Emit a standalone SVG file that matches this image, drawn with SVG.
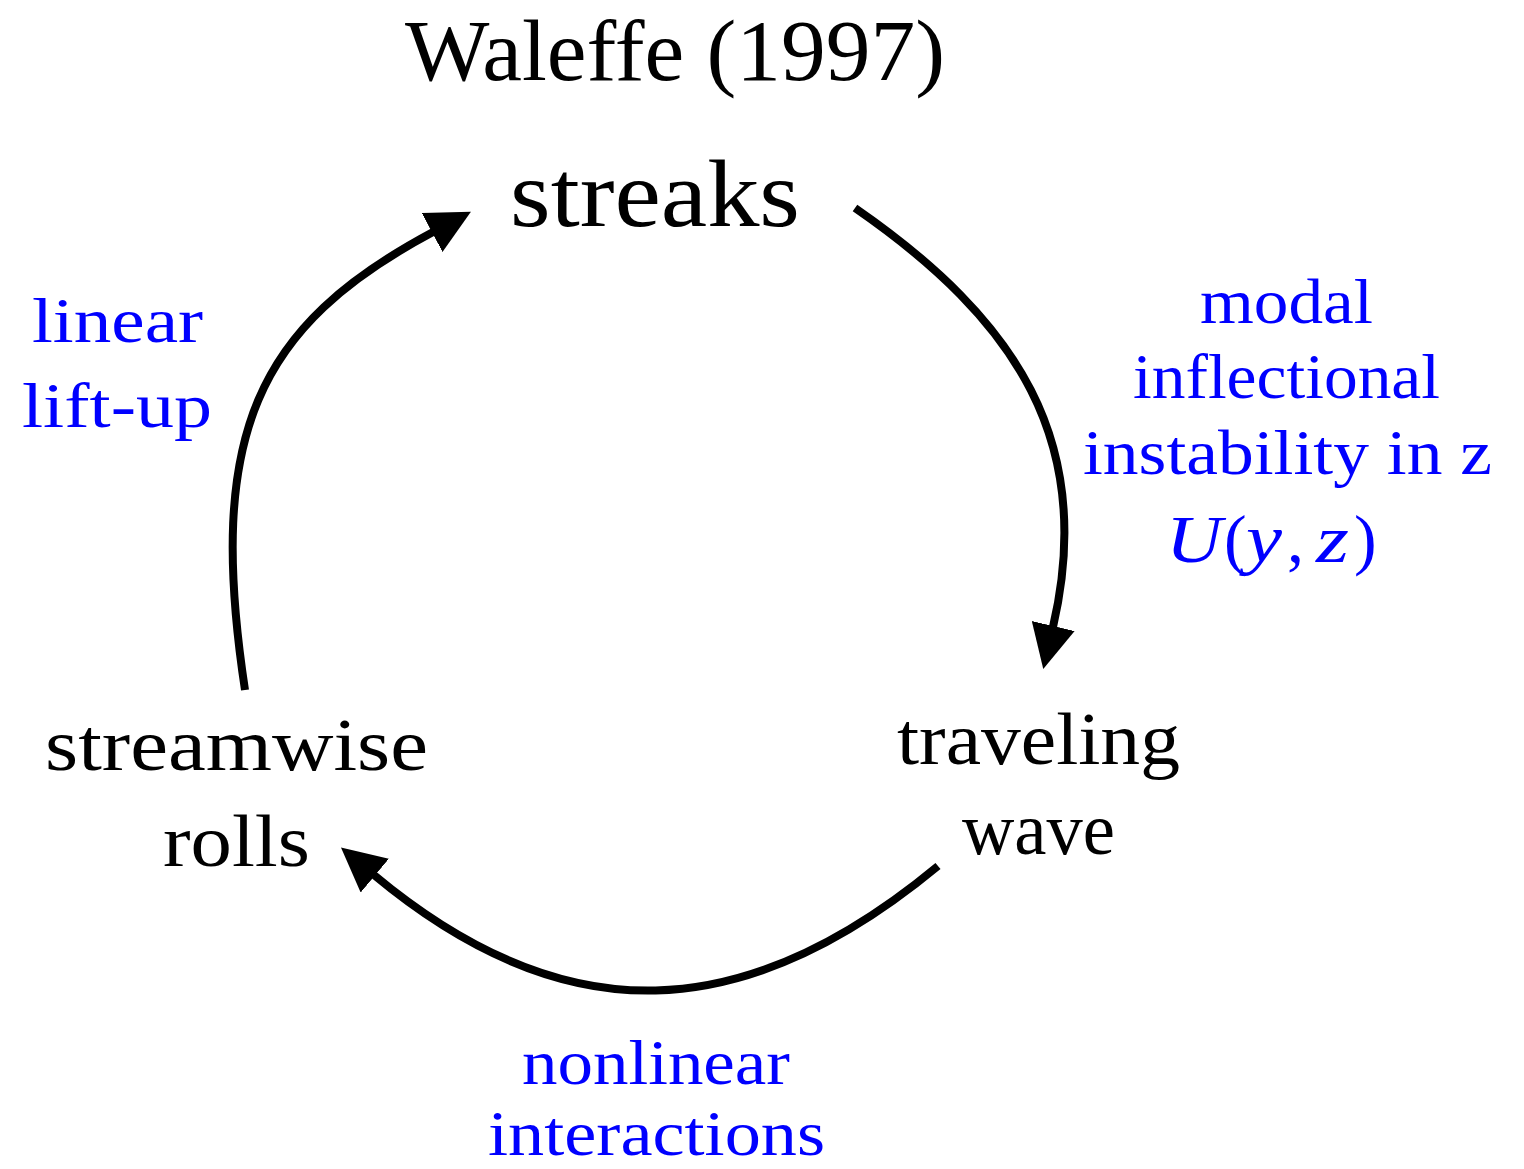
<svg xmlns="http://www.w3.org/2000/svg" width="1524" height="1169" viewBox="0 0 1524 1169">
  <style>
    .serif { font-family: "Liberation Serif", "Times New Roman", serif; }
    .title { font-size: 86px; fill: #000000; }
    .node-big { font-size: 95px; fill: #000000; }
    .node { font-size: 74px; fill: #000000; }
    .lbl { font-size: 64px; fill: #0000FF; }
    .math { font-size: 68px; fill: #0000FF; }
    .math .it { font-style: italic; }
    .edge { fill: none; stroke: #000000; stroke-width: 8; marker-end: url(#head); }
  </style>
  <defs>
    <!-- solid triangular arrowhead, 44 long by 44 wide -->
    <marker id="head" markerUnits="userSpaceOnUse" viewBox="0 -22 44 44" markerWidth="44" markerHeight="44" refX="1" refY="0" orient="auto">
      <path d="M0,-22 L44,0 L0,22 Z" fill="#000000"/>
    </marker>
  </defs>

  <rect x="0" y="0" width="1524" height="1169" fill="#FFFFFF"/>

  <!-- heading -->
  <text class="serif title" x="405" y="80" textLength="540" lengthAdjust="spacingAndGlyphs">Waleffe (1997)</text>

  <!-- cycle nodes -->
  <g id="node-streaks">
    <text class="serif node-big" x="510" y="226" textLength="290" lengthAdjust="spacingAndGlyphs">streaks</text>
  </g>
  <g id="node-traveling-wave">
    <text class="serif node" x="897" y="764" textLength="283" lengthAdjust="spacingAndGlyphs">traveling</text>
    <text class="serif node" x="962" y="854" textLength="153" lengthAdjust="spacingAndGlyphs">wave</text>
  </g>
  <g id="node-streamwise-rolls">
    <text class="serif node" x="45" y="770" textLength="383" lengthAdjust="spacingAndGlyphs">streamwise</text>
    <text class="serif node" x="163" y="866" textLength="147" lengthAdjust="spacingAndGlyphs">rolls</text>
  </g>

  <!-- connectors -->
  <g id="connectors">
    <path id="edge-rolls-streaks" class="edge" d="M245,690 C206,433 257,326 433,232"/>
    <path id="edge-streaks-wave" class="edge" d="M855,208 C1017,320 1096,442 1053,627"/>
    <path id="edge-wave-rolls" class="edge" d="M938,866 C745,1026 566,1035 374,875"/>
  </g>

  <!-- connector labels -->
  <g id="label-lift-up">
    <text class="serif lbl" x="32" y="342" textLength="171" lengthAdjust="spacingAndGlyphs">linear</text>
    <text class="serif lbl" x="22" y="427" textLength="190" lengthAdjust="spacingAndGlyphs">lift-up</text>
  </g>
  <g id="label-inflectional">
    <text class="serif lbl" x="1200" y="323" textLength="173" lengthAdjust="spacingAndGlyphs">modal</text>
    <text class="serif lbl" x="1133" y="398" textLength="307" lengthAdjust="spacingAndGlyphs">inflectional</text>
    <text class="serif lbl" x="1083" y="474" textLength="409" lengthAdjust="spacingAndGlyphs">instability in z</text>
    <text class="serif math" y="562"><tspan class="it" x="1166" textLength="56" lengthAdjust="spacingAndGlyphs">U</tspan><tspan x="1224">(</tspan><tspan class="it" x="1246" textLength="36" lengthAdjust="spacingAndGlyphs">y</tspan><tspan x="1287">,</tspan><tspan class="it" x="1316" textLength="33" lengthAdjust="spacingAndGlyphs">z</tspan><tspan x="1354">)</tspan></text>
  </g>
  <g id="label-nonlinear">
    <text class="serif lbl" x="522" y="1084" textLength="268" lengthAdjust="spacingAndGlyphs">nonlinear</text>
    <text class="serif lbl" x="488" y="1155" textLength="337" lengthAdjust="spacingAndGlyphs">interactions</text>
  </g>
</svg>
